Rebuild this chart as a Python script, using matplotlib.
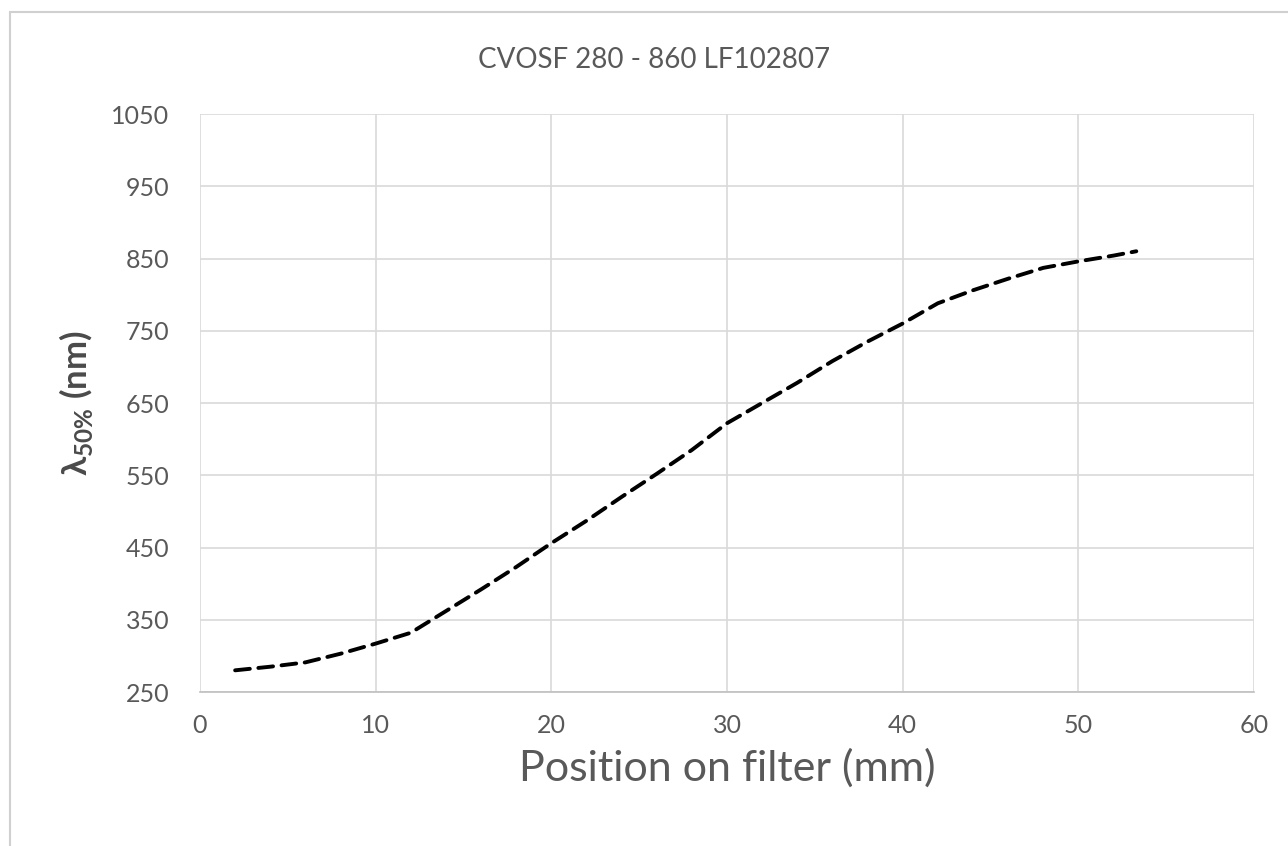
import matplotlib.pyplot as plt
from matplotlib.patches import Rectangle

# position on filter (mm) and 50% edge wavelength (nm)
position_mm = [2, 4, 6, 8, 10, 12, 14, 16, 18, 20, 22, 24, 26, 28, 30,
               32, 34, 36, 38, 40, 42, 44, 46, 48, 50, 52, 53.3]
lambda_50 = [280, 285, 291, 303, 317, 332, 362, 392, 423, 456, 487, 520, 552, 585, 622,
             650, 678, 708, 735, 760, 788, 806, 822, 837, 846, 854, 860]

x_ticks = [0, 10, 20, 30, 40, 50, 60]
y_ticks = [250, 350, 450, 550, 650, 750, 850, 950, 1050]

plt.rcParams['font.family'] = ['Lato', 'DejaVu Sans']
plt.rcParams['mathtext.fontset'] = 'custom'
plt.rcParams['mathtext.rm'] = 'Lato'
plt.rcParams['mathtext.bf'] = 'Lato:bold'

grey_txt = '#595959'
grid_col = '#d9d9d9'

fig = plt.figure(figsize=(12.88, 8.46), dpi=100)
ax = fig.add_axes([200 / 1288, 1 - 692 / 846, 1054 / 1288, 578 / 846])

# chart area border (only left and top visible in the crop)
fig.patches.append(Rectangle((10 / 1288, -0.1), 1.2, 1.1 - 12 / 846, transform=fig.transFigure,
                             fill=False, edgecolor='#d0d0d0', linewidth=1.5))

ax.plot(position_mm, lambda_50, color='black', linewidth=2.8, linestyle=(0, (3.8, 2.2)),
        dash_capstyle='round')

ax.set_xlim(0, 60)
ax.set_ylim(250, 1050)
ax.set_xticks(x_ticks)
ax.set_yticks(y_ticks)
ax.grid(True, color=grid_col, linewidth=1.2)
ax.set_axisbelow(True)
for side in ['left', 'right', 'top']:
    ax.spines[side].set_visible(False)
ax.spines['bottom'].set_color('#bfbfbf')
ax.spines['bottom'].set_linewidth(1.2)
ax.tick_params(length=0, labelsize=18, colors=grey_txt)
ax.tick_params(axis='y', pad=22)
ax.tick_params(axis='x', pad=16)

fig.text(654 / 1288, 1 - 60 / 846, 'CVOSF 280 - 860 LF102807', fontsize=20,
         color=grey_txt, ha='center', va='center')
ax.set_xlabel('Position on filter (mm)', fontsize=31, color=grey_txt, labelpad=8)
ax.set_ylabel(r'λ$_{\mathbf{50\%}}$ (nm)', fontsize=25, color='#4a4a4a',
              fontweight='bold', labelpad=12)

fig.savefig('out.png', dpi=100)
